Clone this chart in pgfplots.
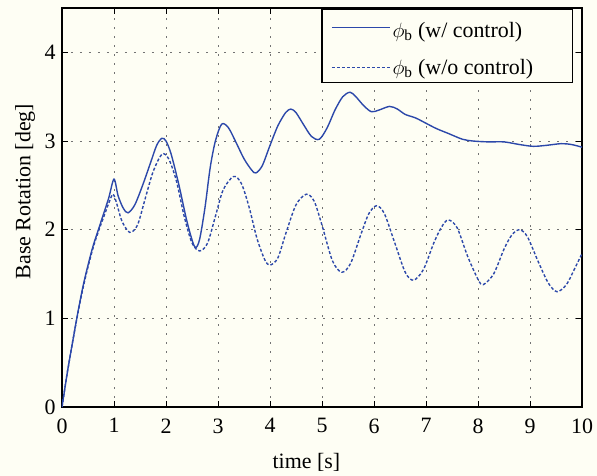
\documentclass[border=0pt]{standalone}
\usepackage{fontspec}
\setmainfont{Liberation Serif}
\usepackage{pgfplots}
\pgfplotsset{compat=1.18}
\usetikzlibrary{backgrounds}
\definecolor{bgc}{RGB}{254,254,244}
\definecolor{lc}{RGB}{44,72,170}
\newcommand{\bigf}{\fontsize{22}{26}\selectfont}

\begin{document}
\begin{tikzpicture}
\begin{axis}[
  scale only axis, width=520bp, height=399bp,
  xmin=0, xmax=10, ymin=0, ymax=4.5,
  xtick={0,1,...,10}, ytick={0,1,...,4},
  grid=major,
  major grid style={dash pattern=on 1.6bp off 7.4bp, black!55, line width=0.9pt},
  tick align=inside, tick pos=both,
  major tick length=6bp,
  axis line style={line width=1.2pt},
  every tick/.style={black, line width=0.9pt},
  /pgf/number format/assume math mode=true,
  tick label style={font=\bigf},
  xticklabel style={yshift=-8bp},
  yticklabel style={xshift=-3bp},
  label style={font=\bigf},
  xlabel={time [s]},
  ylabel={Base Rotation [deg]},
  xlabel style={at={(axis description cs:0.47,-0.138)}, anchor=center},
  ylabel style={at={(axis description cs:-0.071,0.54)}, anchor=center},
  axis background/.style={fill=bgc},
  legend style={at={(rel axis cs:0.983,0.998)}, anchor=north east, draw=black,
    line width=1.3pt, fill=bgc, font=\bigf, row sep=16bp, inner xsep=9bp, inner ysep=5bp},
  legend cell align=left,
  legend image code/.code={\draw[#1] (0bp,0bp) -- (58bp,0bp);},
]
\addplot[lc, line width=1.4pt, smooth, tension=0.5] coordinates {
(0,0) (0.1,0.38) (0.2,0.72) (0.3,1.05) (0.4,1.35) (0.5,1.60) (0.6,1.82)
(0.7,2.00) (0.8,2.18) (0.9,2.36) (1.0,2.57) (1.08,2.38) (1.18,2.24) (1.27,2.19)
(1.4,2.28) (1.55,2.50) (1.7,2.75) (1.82,2.95) (1.92,3.03) (2.0,3.00) (2.1,2.85)
(2.25,2.50) (2.4,2.10) (2.52,1.85) (2.58,1.80) (2.65,1.90) (2.75,2.25) (2.85,2.70)
(2.95,3.00) (3.07,3.19) (3.2,3.15) (3.35,2.98) (3.5,2.80) (3.65,2.67) (3.73,2.64)
(3.85,2.72) (4.0,2.95) (4.15,3.17) (4.3,3.32) (4.4,3.36) (4.5,3.32) (4.65,3.18)
(4.8,3.05) (4.95,3.02) (5.1,3.15) (5.25,3.35) (5.4,3.50) (5.54,3.55) (5.65,3.50)
(5.8,3.40) (5.95,3.33) (6.1,3.35) (6.3,3.39) (6.45,3.36) (6.6,3.30) (6.8,3.26)
(7.0,3.20) (7.2,3.14) (7.45,3.08) (7.7,3.02) (7.9,3.00) (8.2,2.99) (8.5,2.99)
(8.8,2.96) (9.06,2.94) (9.3,2.95) (9.6,2.97) (9.8,2.96) (10,2.93)
};
\addlegendentry{\rule{0pt}{21bp}\makebox[169bp][l]{$\phi_\mathrm{b}$ (w/ control)}}
\addplot[lc, line width=1.4pt, dash pattern=on 3bp off 2bp, smooth, tension=0.5] coordinates {
(0,0) (0.1,0.38) (0.2,0.72) (0.3,1.04) (0.4,1.33) (0.5,1.58) (0.6,1.80)
(0.7,1.98) (0.8,2.14) (0.9,2.30) (0.98,2.40) (1.05,2.30) (1.15,2.10) (1.3,1.97)
(1.45,2.05) (1.6,2.35) (1.75,2.65) (1.92,2.85) (2.05,2.80) (2.2,2.55) (2.35,2.15)
(2.5,1.85) (2.65,1.76) (2.8,1.85) (2.95,2.15) (3.1,2.45) (3.3,2.60) (3.45,2.52)
(3.6,2.25) (3.75,1.90) (3.9,1.66) (4.0,1.60) (4.15,1.68) (4.3,1.95) (4.5,2.28)
(4.7,2.40) (4.85,2.32) (5.0,2.05) (5.2,1.65) (5.38,1.52) (5.55,1.62) (5.75,1.95)
(5.9,2.18) (6.05,2.27) (6.2,2.18) (6.4,1.85) (6.6,1.52) (6.76,1.43) (6.95,1.55)
(7.15,1.85) (7.3,2.03) (7.43,2.11) (7.6,2.02) (7.8,1.70) (8.0,1.44) (8.1,1.38)
(8.3,1.50) (8.5,1.78) (8.65,1.94) (8.8,2.00) (8.95,1.92) (9.15,1.65) (9.35,1.40)
(9.52,1.30) (9.7,1.38) (9.85,1.55) (10,1.73)
};
\addlegendentry{\makebox[169bp][l]{$\phi_\mathrm{b}$ (w/o control)}}
\coordinate (ll) at (rel axis cs:0,0);
\coordinate (ur) at (rel axis cs:1,1);
\end{axis}
\begin{scope}[on background layer]
\fill[bgc] ([shift={(-62bp,-69bp)}]ll) rectangle ([shift={(15bp,8bp)}]ur);
\end{scope}
\pgfresetboundingbox
\path[use as bounding box] ([shift={(-62bp,-69bp)}]ll) rectangle ([shift={(15bp,8bp)}]ur);
\end{tikzpicture}
\end{document}
